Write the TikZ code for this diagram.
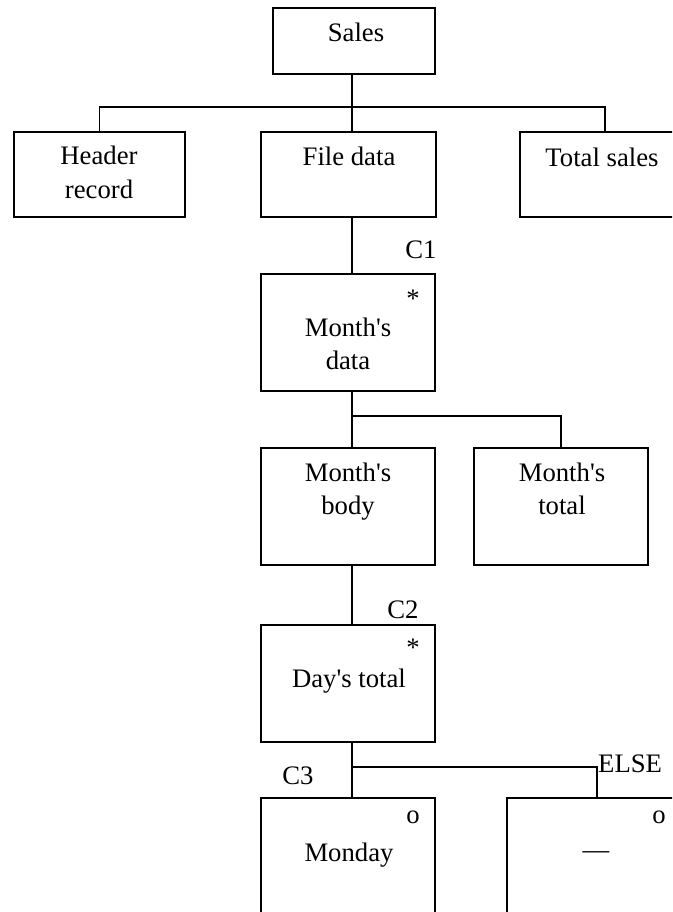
\documentclass[tikz,border=0pt]{standalone}
\usepackage{fontspec}
\setmainfont{Liberation Serif}[Ligatures=TeXOff]
\begin{document}
\begin{tikzpicture}[x=1pt,y=-1pt,
  box/.style={draw, line width=1.5pt, inner sep=0pt, outer sep=0pt, anchor=north west, minimum width=174pt, minimum height=117pt},
  txt/.style={font=\fontsize{26.7pt}{33pt}\selectfont, inner sep=0pt, align=center},
  conn/.style={line width=1.5pt}]
\clip (0,0) rectangle (672,912);
\fill[white] (0,0) rectangle (672,912);
% boxes
\node[box, minimum width=162pt, minimum height=66pt] (sales) at (273,8) {};
\node[box, minimum width=171pt, minimum height=85pt] (hdr) at (14,132) {};
\node[box, minimum width=175pt, minimum height=85pt] (fd) at (261,132) {};
\node[box, minimum width=170pt, minimum height=85pt] (tot) at (520,132) {};
\node[box] (md) at (261,274) {};
\node[box] (mb) at (261,448) {};
\node[box] (mt) at (474,448) {};
\node[box] (dt) at (261,625) {};
\node[box] (mon) at (261,798) {};
\node[box, minimum width=180pt] (els) at (507,798) {};
% texts (two-line nodes: base = baseline of last line)
\node[txt, anchor=base] (salesT) at (356,42) {Sales};
\node[txt, anchor=base] (hdrT) at (99,198) {Header\\record};
\node[txt, anchor=base] (fdT) at (349,166) {File data};
\node[txt, anchor=base] (totT) at (602,167) {Total sales};
\node[txt, anchor=base] (mdS) at (413,307) {*};
\node[txt, anchor=base] (mdT) at (348,369) {Month's\\data};
\node[txt, anchor=base] (mbT) at (348,514) {Month's\\body};
\node[txt, anchor=base] (mtT) at (562,514) {Month's\\total};
\node[txt, anchor=base] (dtS) at (413,656) {*};
\node[txt, anchor=base] (dtT) at (349,687) {Day's total};
\node[txt, anchor=base] (monS) at (413,823) {o};
\node[txt, anchor=base] (monT) at (349,861) {Monday};
\node[txt, anchor=base] (elsS) at (659,823) {o};
\node[txt, anchor=base] (elsT) at (596,858) {—};
% labels
\node[txt, anchor=base] (c1) at (421,258) {C1};
\node[txt, anchor=base] (c2) at (403,618) {C2};
\node[txt, anchor=base] (c3) at (298,784) {C3};
\node[txt, anchor=base west] (else) at (598,772) {ELSE};
% connectors
\coordinate (j1) at (352,107);
\draw[conn] (sales.south -| j1) -- (fd.north -| j1);
\draw[conn] (hdr.north) |- (j1) -| (tot.north);
\draw[conn] (fd.south -| j1) -- (md.north -| j1);
\coordinate (j2) at (352,416);
\draw[conn] (md.south -| j2) -- (mb.north -| j2);
\draw[conn] (j2) -| (mt.north);
\draw[conn] (mb.south -| j2) -- (dt.north -| j2);
\coordinate (j3) at (352,767);
\draw[conn] (dt.south -| j3) -- (mon.north -| j3);
\draw[conn] (j3) -| (els.north);
\end{tikzpicture}
\end{document}
